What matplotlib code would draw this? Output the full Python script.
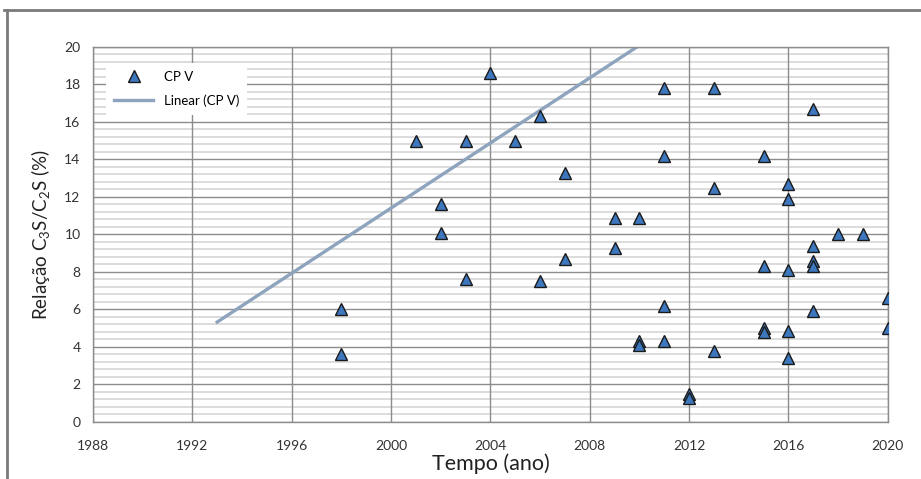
import matplotlib
matplotlib.use('Agg')
import matplotlib.pyplot as plt
from matplotlib.lines import Line2D
import numpy as np

plt.rcParams['font.family'] = ['Lato', 'DejaVu Sans']
plt.rcParams['mathtext.fontset'] = 'custom'
plt.rcParams['mathtext.rm'] = 'Lato'
plt.rcParams['mathtext.it'] = 'Lato'

# data
years = [1998, 1998, 2001, 2002, 2002, 2003, 2003, 2004, 2005, 2006, 2006,
         2007, 2007, 2009, 2009, 2010, 2010, 2010, 2011, 2011, 2011, 2011,
         2012, 2012, 2013, 2013, 2013, 2015, 2015, 2015, 2015,
         2016, 2016, 2016, 2016, 2016, 2017, 2017, 2017, 2017, 2017,
         2018, 2019, 2020, 2020]
ratio = [6.0, 3.6, 15.0, 11.6, 10.1, 15.0, 7.6, 18.6, 15.0, 16.3, 7.5,
         13.3, 8.7, 10.9, 9.3, 10.9, 4.3, 4.1, 17.8, 14.2, 6.2, 4.3,
         1.5, 1.3, 17.8, 12.5, 3.8, 14.2, 8.3, 5.0, 4.8,
         12.7, 11.9, 8.1, 4.85, 3.4, 16.7, 9.4, 8.6, 8.3, 5.9,
         10.0, 10.0, 6.6, 5.0]

# linear trendline endpoints (as drawn by the spreadsheet)
trend_x = [1993, 2020]
trend_y = [5.33, 28.77]

x_ticks = [1988, 1992, 1996, 2000, 2004, 2008, 2012, 2016, 2020]
y_ticks = list(range(0, 21, 2))

fig = plt.figure(figsize=(9.21, 4.79), dpi=100)
ax = fig.add_axes([0.101, 0.119, 0.863, 0.783])

ax.set_xlim(1988, 2020)
ax.set_ylim(0, 20)
ax.set_xticks(x_ticks)
ax.set_yticks(y_ticks)

# light minor lines first, darker major grid on top of them
minor_y = [v for v in np.arange(0, 20.01, 0.4) if abs(v / 2 - round(v / 2)) > 1e-6]
ax.hlines(minor_y, 1988, 2020, color='#dcdcdc', linewidth=1.4, zorder=0.2)
ax.grid(which='major', axis='both', color='#8c8c8c', linewidth=1.0)
ax.set_axisbelow(True)

for s in ax.spines.values():
    s.set_color('#8c8c8c')
    s.set_linewidth(1.0)

ax.tick_params(which='both', length=0, labelsize=10, colors='#333333')
ax.tick_params(axis='x', pad=13)
ax.tick_params(axis='y', pad=9)

ax.plot(trend_x, trend_y, color='#8da3be', linewidth=2.4, zorder=2,
        label='Linear (CP V)')
ax.plot(years, ratio, linestyle='none', marker='^', markersize=9,
        markerfacecolor='#3d78bf', markeredgecolor='#1a1a1a', markeredgewidth=1.0,
        zorder=3, label='CP V')

handles, labels = ax.get_legend_handles_labels()
leg = ax.legend(handles[::-1], labels[::-1], loc='upper left',
                bbox_to_anchor=(0.008, 0.975), fontsize=9.5, frameon=True,
                fancybox=False, framealpha=1, handlelength=3.0,
                labelspacing=0.85, borderpad=0.6)
leg.get_frame().set_edgecolor('none')
leg.get_frame().set_facecolor('white')

ax.set_xlabel('Tempo (ano)', fontsize=15.5, labelpad=1, color='#222222')
ax.set_ylabel(r'Relação C$_3$S/C$_2$S (%)', fontsize=13.5, labelpad=9, color='#222222')

# outer frame lines of the original picture
fig.add_artist(Line2D([0.004, 1.0], [0.979, 0.979], color='#7a7a7a', linewidth=2,
                      transform=fig.transFigure))
fig.add_artist(Line2D([0.008, 0.008], [0.0, 0.979], color='#7a7a7a', linewidth=2,
                      transform=fig.transFigure))

plt.savefig('out.png', dpi=100)
